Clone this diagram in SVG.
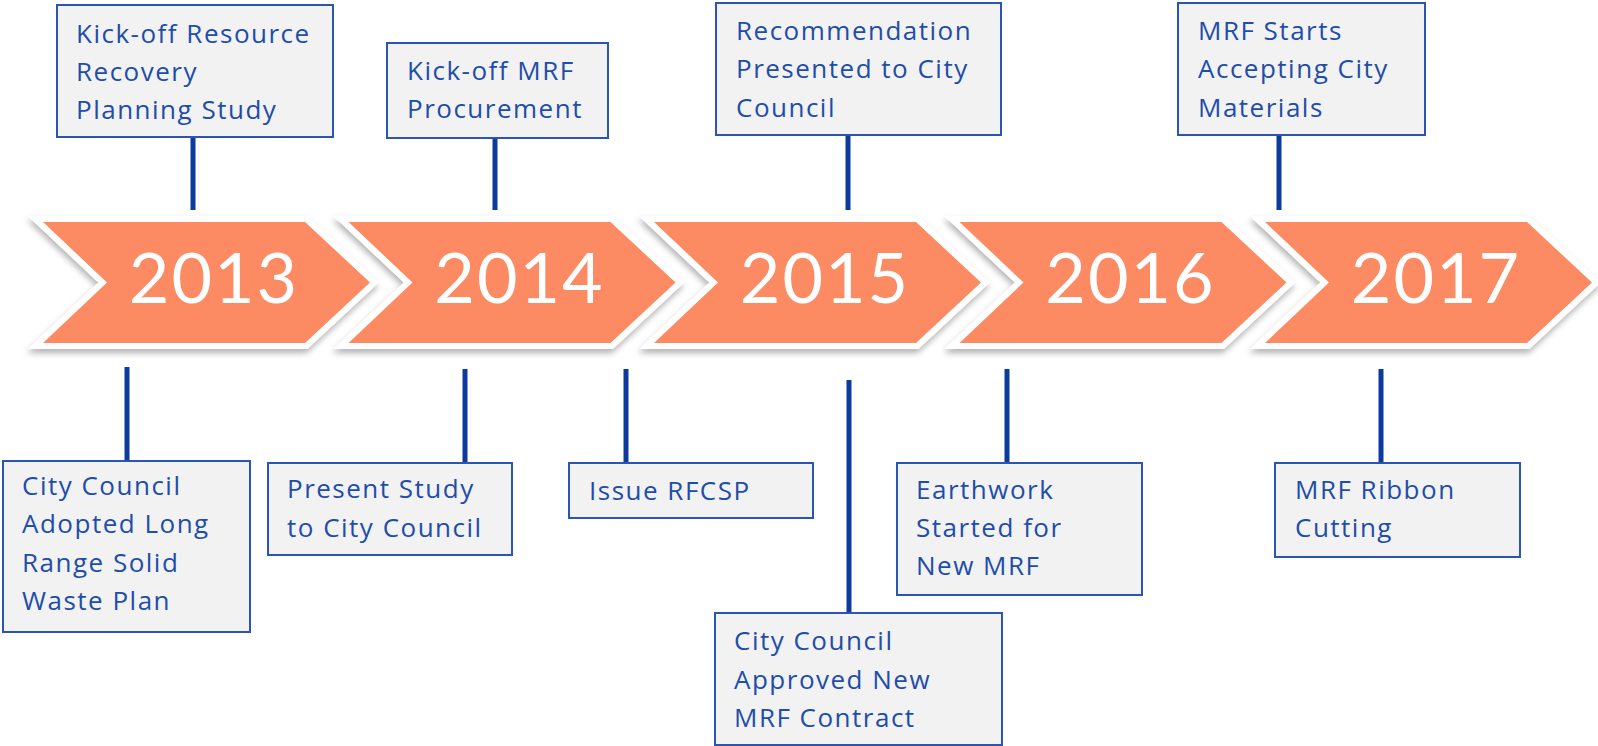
<svg xmlns="http://www.w3.org/2000/svg" width="1598" height="746" viewBox="0 0 1598 746">
<defs>
<filter id="sh" x="-10%" y="-20%" width="120%" height="150%">
<feDropShadow dx="-1" dy="4" stdDeviation="3" flood-color="#000" flood-opacity="0.3"/>
</filter>
<polygon id="chev" points="0,0 262,0 327,60.5 262,121 0,121 64,60.5"/>
</defs>
<style>
.chev{fill:#FC8A63;stroke:#fff;stroke-width:12;paint-order:stroke;stroke-miterlimit:6}
.yr{font-family:Lato,"Liberation Sans",sans-serif;font-size:70px;fill:#fff;text-anchor:middle;letter-spacing:2px}
.box{fill:#F2F2F2;stroke:#2A55B0;stroke-width:2}
.lbl{font-family:"Open Sans",Lato,sans-serif;font-size:26px;fill:#1E4DAA;letter-spacing:1.5px}
.con{stroke:#0D3A9E;stroke-width:5;fill:none}
</style>
<g id="connectors">
<line class="con" x1="193" y1="137" x2="193" y2="210"/>
<line class="con" x1="495" y1="138" x2="495" y2="210"/>
<line class="con" x1="848" y1="135" x2="848" y2="210"/>
<line class="con" x1="1279" y1="135" x2="1279" y2="210"/>
<line class="con" x1="127" y1="367" x2="127" y2="461"/>
<line class="con" x1="465" y1="369" x2="465" y2="463"/>
<line class="con" x1="626" y1="369" x2="626" y2="463"/>
<line class="con" x1="849" y1="380" x2="849" y2="613"/>
<line class="con" x1="1007" y1="369" x2="1007" y2="463"/>
<line class="con" x1="1381" y1="369" x2="1381" y2="463"/>
</g>
<g id="y2013" filter="url(#sh)"><use href="#chev" class="chev" x="43" y="222"/><text class="yr" x="214" y="303">2013</text></g>
<g id="y2014" filter="url(#sh)"><use href="#chev" class="chev" x="348.5" y="222"/><text class="yr" x="519.5" y="303">2014</text></g>
<g id="y2015" filter="url(#sh)"><use href="#chev" class="chev" x="654" y="222"/><text class="yr" x="825" y="303">2015</text></g>
<g id="y2016" filter="url(#sh)"><use href="#chev" class="chev" x="959.5" y="222"/><text class="yr" x="1130.5" y="303">2016</text></g>
<g id="y2017" filter="url(#sh)"><use href="#chev" class="chev" x="1265" y="222"/><text class="yr" x="1436" y="303">2017</text></g>

<g id="t1"><rect class="box" x="57" y="5" width="276" height="132"/>
<text class="lbl" x="76"><tspan x="76" y="42.5">Kick-off Resource</tspan><tspan x="76" y="81">Recovery</tspan><tspan x="76" y="119">Planning Study</tspan></text></g>
<g id="t2"><rect class="box" x="387" y="43" width="221" height="95"/>
<text class="lbl"><tspan x="407" y="80">Kick-off MRF</tspan><tspan x="407" y="118">Procurement</tspan></text></g>
<g id="t3"><rect class="box" x="716" y="3" width="285" height="132"/>
<text class="lbl"><tspan x="736" y="40">Recommendation</tspan><tspan x="736" y="78">Presented to City</tspan><tspan x="736" y="117">Council</tspan></text></g>
<g id="t5"><rect class="box" x="1178" y="3" width="247" height="132"/>
<text class="lbl"><tspan x="1198" y="40">MRF Starts</tspan><tspan x="1198" y="78">Accepting City</tspan><tspan x="1198" y="117">Materials</tspan></text></g>

<g id="b1"><rect class="box" x="3" y="461" width="247" height="171"/>
<text class="lbl"><tspan x="22" y="495">City Council</tspan><tspan x="22" y="533">Adopted Long</tspan><tspan x="22" y="572">Range Solid</tspan><tspan x="22" y="610">Waste Plan</tspan></text></g>
<g id="b2"><rect class="box" x="268" y="463" width="244" height="92"/>
<text class="lbl"><tspan x="287" y="498">Present Study</tspan><tspan x="287" y="537">to City Council</tspan></text></g>
<g id="b3"><rect class="box" x="569" y="463" width="244" height="55"/>
<text class="lbl"><tspan x="589" y="500">Issue RFCSP</tspan></text></g>
<g id="b4"><rect class="box" x="715" y="613" width="287" height="132"/>
<text class="lbl"><tspan x="734" y="650">City Council</tspan><tspan x="734" y="689">Approved New</tspan><tspan x="734" y="727">MRF Contract</tspan></text></g>
<g id="b5"><rect class="box" x="897" y="463" width="245" height="132"/>
<text class="lbl"><tspan x="916" y="499">Earthwork</tspan><tspan x="916" y="537">Started for</tspan><tspan x="916" y="575">New MRF</tspan></text></g>
<g id="b6"><rect class="box" x="1275" y="463" width="245" height="94"/>
<text class="lbl"><tspan x="1295" y="499">MRF Ribbon</tspan><tspan x="1295" y="537">Cutting</tspan></text></g>
</svg>
